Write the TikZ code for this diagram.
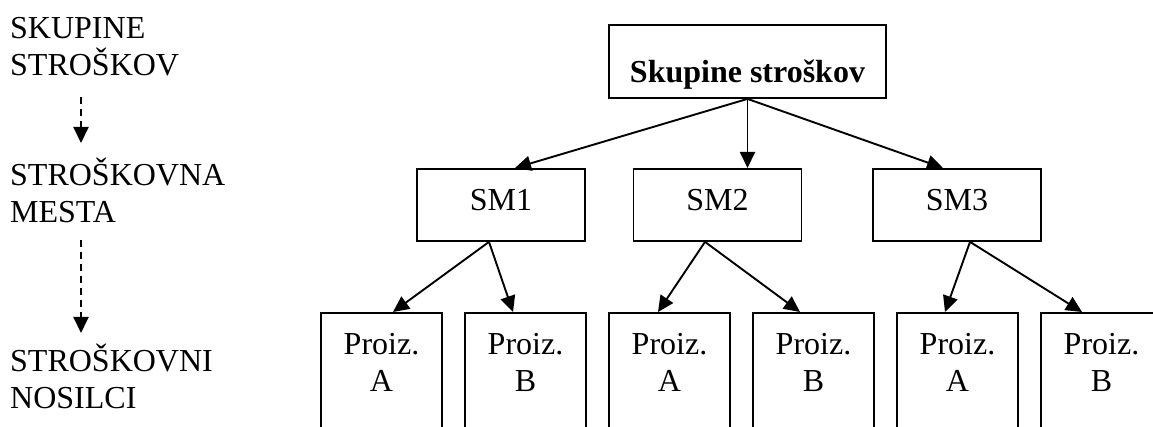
\documentclass[tikz,border=0pt]{standalone}
\usepackage{fontspec}
\setmainfont{Liberation Serif}
\usetikzlibrary{positioning}
\usetikzlibrary{arrows.meta}
\tikzset{arr/.style = {-{Triangle[length=16pt,width=15pt]}, line width=1.9pt}}
\tikzset{dasharr/.style = {arr, dash pattern=on 7pt off 5pt}}
\tikzset{lvl/.style = {anchor=base west, inner sep=0, align=left}}
\tikzset{topbox/.style = {draw, line width=1.9pt, anchor=north,
                          font=\fontsize{32}{37}\selectfont\bfseries,
                          minimum width=277pt, inner ysep=4pt,
                          text height=54pt, text depth=11pt}}
\tikzset{smbox/.style = {draw, line width=1.9pt, anchor=north,
                         minimum width=168pt, inner ysep=20pt,
                         text height=22pt, text depth=10pt}}
\tikzset{prbox/.style = {draw, line width=1.9pt, anchor=north, align=center,
                         minimum width=121pt, inner ysep=20pt,
                         text depth=150pt}}

\begin{document}
\begin{tikzpicture}[x=1pt, y=-1pt,
    every node/.style={font=\fontsize{32}{37}\selectfont}]
  \useasboundingbox (0,0) rectangle (1153,427);
  \clip (0,0) rectangle (1153,427);

  % levels on the left
  \node[lvl] (l1) at (10,76) {SKUPINE\\STROŠKOV};
  \node[lvl] (l2) at (10,223) {STROŠKOVNA\\MESTA};
  \node[lvl] (l3) at (10,408) {STROŠKOVNI\\NOSILCI};
  \coordinate (d1a) at (81,97);
  \coordinate (d1b) at (81,143);
  \coordinate (d2a) at (81,240);
  \coordinate (d2b) at (81,333);
  \draw[dasharr] (d1a) -- (d1b);
  \draw[dasharr] (d2a) -- (d2b);

  % tree
  \node[topbox] (sk) at (747.5,24) {Skupine stroškov};
  \node[smbox] (sm1) at (501,168) {SM1};
  \node[smbox] (sm2) at (717.5,168) {SM2};
  \node[smbox] (sm3) at (957,168) {SM3};
  \foreach \i/\p in {1/A,2/B,3/A,4/B,5/A,6/B}
    \node[prbox] (p\i) at ({237.5+144*\i},312) {Proiz.\\\p};

  \draw[arr] (sk.south) -- ([xshift=14pt]sm1.north);
  \draw[arr] (sk.south) -- (sk.south |- sm2.north);
  \draw[arr] (sk.south) -- ([xshift=-14pt]sm3.north);

  \draw[arr] ([xshift=-12pt]sm1.south) -- ([xshift=11.5pt]p1.north);
  \draw[arr] ([xshift=-12pt]sm1.south) -- ([xshift=-12.5pt]p2.north);
  \draw[arr] ([xshift=-12.5pt]sm2.south) -- ([xshift=-11.5pt]p3.north);
  \draw[arr] ([xshift=-12.5pt]sm2.south) -- ([xshift=-13.5pt]p4.north);
  \draw[arr] ([xshift=13pt]sm3.south) -- ([xshift=-12.5pt]p5.north);
  \draw[arr] ([xshift=13pt]sm3.south) -- ([xshift=-19.5pt]p6.north);
\end{tikzpicture}
\end{document}
